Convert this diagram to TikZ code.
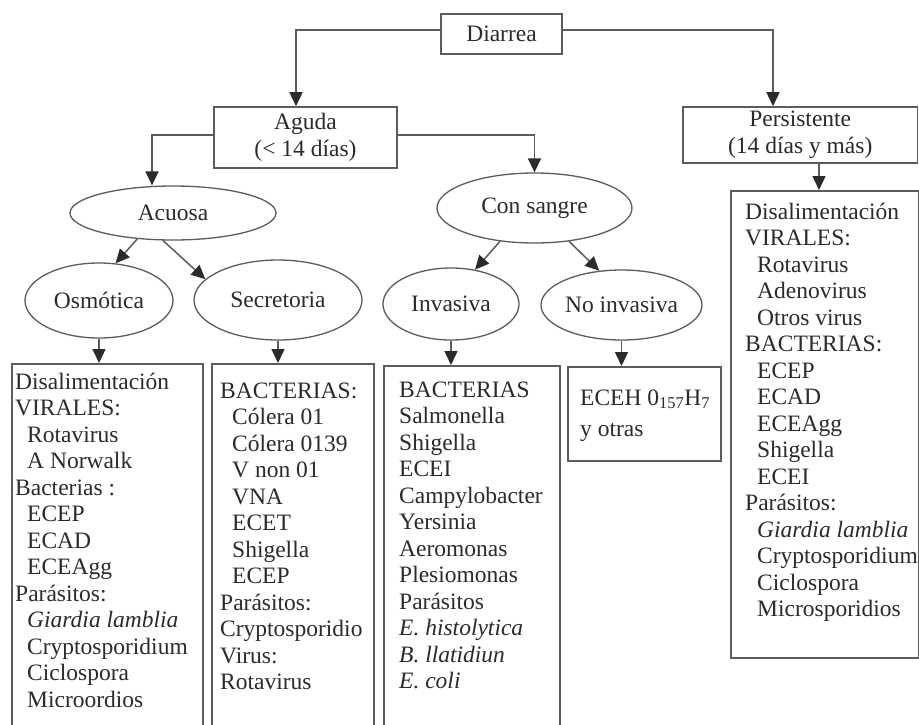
\documentclass[tikz,border=0pt]{standalone}
\usepackage{fontspec}
\setmainfont{Liberation Serif}
\usetikzlibrary{arrows.meta,shapes.geometric,calc}
\definecolor{ink}{HTML}{2B2B2B}
\definecolor{edgec}{HTML}{5C5C5C}
\newcommand\firstln{\rule{0pt}{18pt}}
\newcommand\ind{\hspace*{12pt}}
\begin{document}
\begin{tikzpicture}[x=1pt,y=-1pt,
  every node/.style={text=ink, font=\fontsize{23.5}{26.5}\selectfont},
  lbox/.style={draw=edgec, line width=1.6pt, rectangle, inner sep=0pt, align=center, font=\fontsize{23.5}{27}\selectfont},
  ell/.style={draw=edgec, line width=1.3pt, ellipse, inner sep=0pt},
  dbox/.style={draw=edgec, line width=1.6pt, rectangle, inner sep=0pt, anchor=north west},
  txt/.style={anchor=north west, inner sep=0pt, align=left},
  conn/.style={draw=edgec, line width=1.5pt, -{Triangle[length=14pt,width=13pt,color=ink]}},
]
\fill[white] (0,0) rectangle (919,724);
\useasboundingbox (0,0) rectangle (919,724);

% top level
\node[lbox, minimum width=121pt, minimum height=40pt] (diar) at (501.5,34) {Diarrea};
\node[lbox, minimum width=183pt, minimum height=61pt] (agu) at (305.5,137.5) {Aguda\\(< 14 días)};
\node[lbox, minimum width=234.5pt, minimum height=56pt] (pers) at (800.25,135) {Persistente\\(14 días y más)};

% ellipses
\node[ell, minimum width=206pt, minimum height=54pt] (acu) at (173,213) {Acuosa};
\node[ell, minimum width=195pt, minimum height=70pt] (con) at (534.5,208) {Con sangre};
\node[ell, minimum width=148pt, minimum height=75pt] (osm) at (99,300.5) {Osmótica};
\node[ell, minimum width=168pt, minimum height=80pt] (sec) at (278,300) {Secretoria};
\node[ell, minimum width=136pt, minimum height=72pt] (inv) at (451,304) {Invasiva};
\node[ell, minimum width=161pt, minimum height=70pt] (noi) at (621.5,305) {No invasiva};

% detail boxes
\node[dbox, minimum width=191pt, minimum height=372pt] (b1) at (11,363) {};
\node[dbox, minimum width=162pt, minimum height=372pt] (b2) at (211,363) {};
\node[dbox, minimum width=176pt, minimum height=370pt] (b3) at (383,365) {};
\node[dbox, minimum width=153pt, minimum height=94pt] (b4) at (567,366) {};
\node[dbox, minimum width=187.5pt, minimum height=467pt] (b5) at (730,190) {};

% texts
\node[txt] (t1) at (15,371) {\firstln Disalimentación\\VIRALES:\\\ind Rotavirus\\\ind A Norwalk\\Bacterias :\\\ind ECEP\\\ind ECAD\\\ind ECEAgg\\Parásitos:\\\ind\textit{Giardia lamblia}\\\ind Cryptosporidium\\\ind Ciclospora\\\ind Microordios};
\node[txt] (t2) at (220,380) {\firstln BACTERIAS:\\\ind Cólera 01\\\ind Cólera 0139\\\ind V non 01\\\ind VNA\\\ind ECET\\\ind Shigella\\\ind ECEP\\Parásitos:\\Cryptosporidio\\Virus:\\Rotavirus};
\node[txt] (t3) at (399,379) {\firstln BACTERIAS\\Salmonella\\Shigella\\ECEI\\Campylobacter\\Yersinia\\Aeromonas\\Plesiomonas\\Parásitos\\\textit{E. histolytica}\\\textit{B. llatidiun}\\\textit{E. coli}};
\node[txt, font=\fontsize{23.5}{31}\selectfont] (t4) at (580,387) {\firstln ECEH 0\textsubscript{157}H\textsubscript{7}\\y otras};
\node[txt] (t5) at (745,201) {\firstln Disalimentación\\VIRALES:\\\ind Rotavirus\\\ind Adenovirus\\\ind Otros virus\\BACTERIAS:\\\ind ECEP\\\ind ECAD\\\ind ECEAgg\\\ind Shigella\\\ind ECEI\\Parásitos:\\\ind\textit{Giardia lamblia}\\\ind Cryptosporidium\\\ind Ciclospora\\\ind Microsporidios};

% connectors
\draw[conn] ([yshift=4pt]diar.west) -| ([xshift=-9.5pt]agu.north);
\draw[conn] ([yshift=4pt]diar.east) -| ([xshift=-27.25pt]pers.north);
\draw[conn] ([yshift=2.5pt]agu.west) -| ([xshift=-21pt]acu.north);
\draw[conn] ([yshift=2.5pt]agu.east) -| (con.north);
\coordinate (pa) at ([xshift=18.75pt]pers.south);
\draw[conn] (pa) -- (pa |- b5.north);

\draw[conn] (acu.-144) -- (osm.66);
\draw[conn] (acu.-110) -- (sec.164);
\draw[conn] (con.-136) -- (inv.55);
\draw[conn] (con.-44) -- (noi.123);

\draw[conn] (osm.south) -- (osm.south |- b1.north);
\draw[conn] (sec.south) -- (sec.south |- b2.north);
\draw[conn] (inv.south) -- (inv.south |- b3.north);
\draw[conn] (noi.south) -- (noi.south |- b4.north);
\end{tikzpicture}
\end{document}
